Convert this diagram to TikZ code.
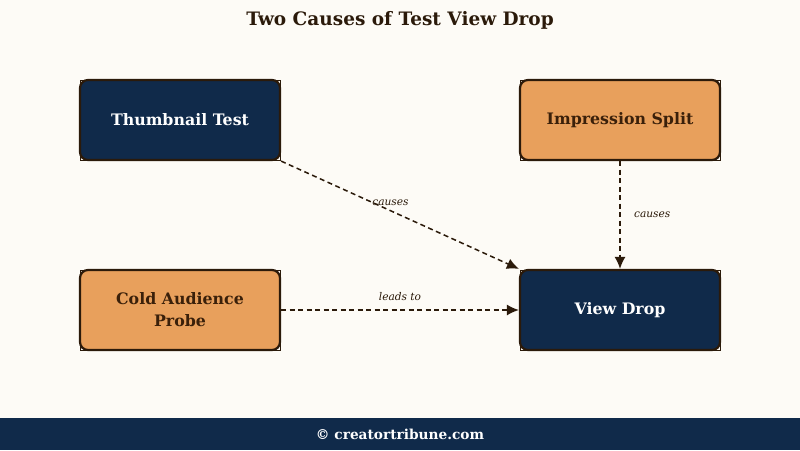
\documentclass[tikz,border=0pt]{standalone}
\usepackage{fontspec}
\setmainfont{DejaVu Serif}
\usetikzlibrary{arrows.meta}
\definecolor{bgc}{HTML}{FDFBF6}
\definecolor{navy}{HTML}{102A4A}
\definecolor{orng}{HTML}{E8A05C}
\definecolor{ink}{HTML}{2B1A0A}
\definecolor{txtbrown}{HTML}{3A200A}
\begin{document}
\begin{tikzpicture}[x=1pt,y=-1pt,
  box/.style={minimum width=200pt,minimum height=80pt,rounded corners=8pt,draw=ink,line width=2.2pt,align=center,font=\bfseries\fontsize{15.8}{22}\selectfont},
  navybox/.style={box,fill=navy,text=white},
  orngbox/.style={box,fill=orng,text=txtbrown},
  link/.style={draw=ink,line width=1.5pt,dash pattern=on 5pt off 3.5pt,-{Latex[length=12pt,width=11pt]}},
  lbl/.style={font=\itshape\fontsize{10.6}{12}\selectfont,text=ink}]
\useasboundingbox (0,0) rectangle (800,450);
\fill[bgc] (0,0) rectangle (800,450);
\fill[navy] (0,418) rectangle (800,450);
\node[font=\bfseries\fontsize{18.5}{22}\selectfont,text=ink] (title) at (400,20) {Two Causes of Test View Drop};
\node[font=\bfseries\fontsize{13.7}{16}\selectfont,text=white] (foot) at (400,434) {© creatortribune.com};
\foreach \cx/\cy in {180/120,620/120,180/310,620/310}
  \draw[ink,line width=0.8pt] (\cx-100,\cy-40) rectangle (\cx+100,\cy+40);
\node[navybox] (thumb) at (180,120) {Thumbnail Test};
\node[orngbox] (imp) at (620,120) {Impression Split};
\node[orngbox] (cold) at (180,310) {Cold Audience\\Probe};
\node[navybox] (view) at (620,310) {View Drop};
\draw[link] (thumb.south east) -- (view.north west) node[lbl,pos=0.46,above=1pt] {causes};
\draw[link] (imp.south) -- (view.north) node[lbl,midway,right=10pt] {causes};
\draw[link] (cold.east) -- (view.west) node[lbl,midway,above=5pt] {leads to};
\end{tikzpicture}
\end{document}
